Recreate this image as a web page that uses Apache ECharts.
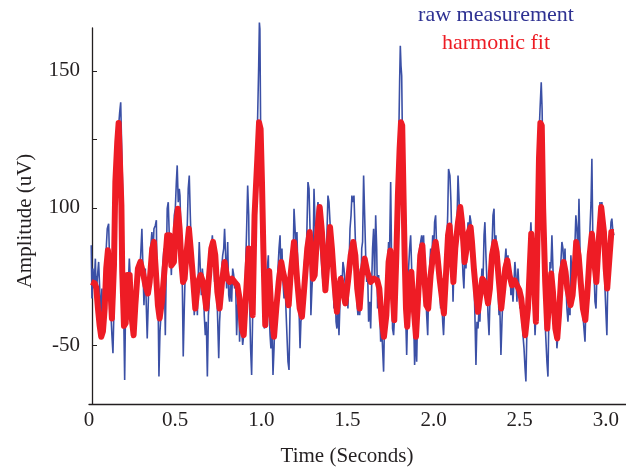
<!DOCTYPE html>
<html><head><meta charset="utf-8">
<script src="https://cdn.jsdelivr.net/npm/echarts@6/dist/echarts.min.js"></script>
<style>html,body{margin:0;padding:0;background:#fff}#c{width:626px;height:468px}</style>
</head><body><div id="c"></div>
<script>
// raw measurement: [time (s), amplitude]
const rawMeasurement = [
[0.013,86.4],[0.017,67],[0.023,77.9],[0.029,70.6],[0.037,81.5],[0.042,67],[0.048,74.2],[0.056,80.3],[0.062,70.6],[0.068,60.9],[0.075,70.6],[0.081,56],[0.091,67],[0.100,85.2],[0.106,92.4],[0.114,94.2],[0.120,79.1],[0.126,63.3],[0.133,53.6],[0.139,47],[0.145,63.3],[0.153,80.3],[0.158,109.4],[0.164,116.7],[0.172,130],[0.178,134.8],[0.184,138.5],[0.189,123.9],[0.195,107],[0.199,75.5],[0.203,54.8],[0.207,37.3],[0.211,57.3],[0.217,73],[0.222,63.3],[0.228,71.8],[0.234,81.5],[0.240,74.2],[0.246,64.5],[0.251,68.2],[0.257,53.6],[0.263,60.9],[0.269,63.3],[0.275,77.9],[0.280,73],[0.288,80.3],[0.294,77.9],[0.300,82.7],[0.307,92.4],[0.313,93],[0.319,64.5],[0.327,77.9],[0.333,63.3],[0.338,52.4],[0.346,69.4],[0.352,77.9],[0.358,85.2],[0.365,91.2],[0.371,82.7],[0.377,92.4],[0.385,93.6],[0.391,95.5],[0.396,63.3],[0.402,60.9],[0.406,38.5],[0.412,54.8],[0.420,63.3],[0.427,77.9],[0.435,85.2],[0.443,53.6],[0.449,80.3],[0.454,99.7],[0.460,102.1],[0.466,90],[0.472,85.2],[0.478,75.5],[0.483,86.4],[0.489,82.7],[0.495,97.3],[0.501,99.7],[0.507,109.4],[0.512,115.5],[0.518,102.1],[0.524,107],
[0.528,104.5],[0.536,85.2],[0.542,70.6],[0.547,45.8],[0.553,63.3],[0.559,77.9],[0.565,85.2],[0.571,94.8],[0.576,107],[0.582,111.8],[0.588,97.3],[0.594,85.2],[0.600,76.7],[0.605,70.6],[0.611,60.9],[0.617,68.2],[0.623,73],[0.629,60.9],[0.634,75.5],[0.640,87.6],[0.646,77.9],[0.652,68.2],[0.658,77.9],[0.664,73],[0.669,60.9],[0.675,53.6],[0.681,58.5],[0.687,38.5],[0.693,60.9],[0.698,65.8],[0.704,77.9],[0.710,85.2],[0.716,90],[0.722,82.7],[0.729,73],[0.737,77.9],[0.745,63.3],[0.753,45.2],[0.758,58.5],[0.764,65.8],[0.770,77.9],[0.776,82.7],[0.782,85.2],[0.787,92.4],[0.793,82.7],[0.799,70.6],[0.805,87.6],[0.811,68.2],[0.816,65.8],[0.822,73],[0.828,65.8],[0.834,77.9],[0.840,75.5],[0.845,70.6],[0.851,73],[0.857,53.6],[0.863,64.5],[0.869,69.4],[0.874,51.2],[0.880,60.9],[0.886,56],[0.892,50],[0.898,53.6],[0.903,63.3],[0.909,77.9],[0.915,92.4],[0.921,108.2],[0.927,97.3],[0.932,65.8],[0.938,48.8],[0.944,39.1],[0.950,60.9],[0.956,94.8],[0.961,107],[0.967,104.5],[0.973,116.7],[0.979,133.6],[0.985,151.8],[0.989,167.6],[0.992,165.2],[0.996,131.2],[1.000,109.4],[1.006,87.6],[1.012,70.6],[1.018,56],[1.023,60.9],[1.029,63.3],[1.035,77.9],[1.041,82.7],
[1.045,63.3],[1.051,53.6],[1.056,48.8],[1.062,58.5],[1.068,39.1],[1.074,48.8],[1.080,60.9],[1.085,53.6],[1.091,70.6],[1.097,77.9],[1.103,85.2],[1.109,90],[1.114,75.5],[1.120,85.2],[1.126,73],[1.132,67],[1.138,75.5],[1.143,63.3],[1.149,53.6],[1.155,43.9],[1.161,40.9],[1.167,63.3],[1.172,77.9],[1.178,85.2],[1.184,77.9],[1.190,99.7],[1.196,92.4],[1.201,85.2],[1.207,91.2],[1.213,75.5],[1.219,63.3],[1.225,48.8],[1.230,58.5],[1.236,60.9],[1.242,68.2],[1.248,77.9],[1.254,82.7],[1.259,77.9],[1.265,92.4],[1.271,109.4],[1.277,107],[1.283,92.4],[1.288,60.9],[1.294,70.6],[1.300,77.9],[1.306,107],[1.312,94.8],[1.317,85.2],[1.323,97.3],[1.329,102.1],[1.335,97.3],[1.341,87.6],[1.347,82.7],[1.352,77.9],[1.358,73],[1.364,70.6],[1.370,80.3],[1.376,85.2],[1.381,90],[1.387,104.5],[1.393,102.1],[1.399,94.8],[1.405,85.2],[1.410,92.4],[1.416,75.5],[1.422,63.3],[1.428,73],[1.434,58.5],[1.439,56],[1.445,63.3],[1.451,53.6],[1.457,65.8],[1.463,75.5],[1.468,70.6],[1.474,80.3],[1.480,77.9],[1.486,73],[1.492,68.2],[1.497,73],[1.503,63.3],[1.509,77.9],[1.515,92.4],[1.521,97.3],[1.526,104.5],[1.532,102.1],[1.538,104.5],[1.544,92.4],[1.550,80.3],[1.555,65.8],[1.561,60.9],
[1.565,77.9],[1.571,60.9],[1.577,65.8],[1.583,85.2],[1.588,87.6],[1.594,111.8],[1.600,97.3],[1.606,82.7],[1.612,73],[1.617,77.9],[1.623,58.5],[1.629,65.8],[1.635,56],[1.641,73],[1.646,85.2],[1.652,92.4],[1.658,73],[1.664,97.3],[1.670,85.2],[1.675,63.3],[1.681,75.5],[1.687,63.3],[1.693,51.2],[1.699,56],[1.704,48.8],[1.710,40.3],[1.716,60.9],[1.722,56],[1.728,70.6],[1.733,77.9],[1.739,87.6],[1.745,85.2],[1.751,109.4],[1.757,77.9],[1.762,56],[1.768,53.6],[1.774,60.9],[1.780,73],[1.786,92.4],[1.791,107],[1.797,121.5],[1.803,145.8],[1.807,159.1],[1.811,151.8],[1.815,148.2],[1.820,121.5],[1.826,92.4],[1.832,75.5],[1.838,60.9],[1.844,46.4],[1.850,63.3],[1.855,77.9],[1.861,85.2],[1.867,90],[1.873,77.9],[1.879,68.2],[1.884,60.9],[1.890,42.7],[1.896,56],[1.902,43.9],[1.908,63.3],[1.913,75.5],[1.919,85.2],[1.925,87.6],[1.931,90],[1.937,85.2],[1.942,90],[1.948,77.9],[1.954,70.6],[1.960,60.9],[1.966,53.6],[1.971,68.2],[1.977,77.9],[1.983,85.2],[1.989,80.3],[1.995,90],[2.000,82.7],[2.006,94.8],[2.012,97.3],[2.018,85.2],[2.024,82.7],[2.029,77.9],[2.035,70.6],[2.041,63.3],[2.047,68.2],[2.053,58.5],[2.058,53.6],[2.064,63.3],[2.070,77.9],[2.076,85.2],[2.082,97.3],[2.087,114.2],
[2.095,111.8],[2.101,102.1],[2.107,85.2],[2.113,65.8],[2.118,77.9],[2.124,85.2],[2.130,80.3],[2.136,94.8],[2.142,111.8],[2.147,104.5],[2.153,94.8],[2.159,99.7],[2.165,85.2],[2.171,75.5],[2.176,70.6],[2.182,82.7],[2.188,77.9],[2.194,87.6],[2.200,94.8],[2.205,90],[2.211,97.3],[2.217,94.8],[2.223,87.6],[2.229,82.7],[2.235,73],[2.240,60.9],[2.246,42.7],[2.252,58.5],[2.258,56],[2.264,63.3],[2.269,58.5],[2.275,70.6],[2.281,77.9],[2.287,73],[2.293,90],[2.298,94.8],[2.304,82.7],[2.310,73],[2.316,60.9],[2.322,53.6],[2.327,65.8],[2.333,77.9],[2.339,85.2],[2.345,97.3],[2.351,99.7],[2.356,82.7],[2.362,90],[2.368,80.3],[2.374,70.6],[2.380,60.9],[2.385,63.3],[2.391,46.4],[2.397,58.5],[2.403,68.2],[2.409,77.9],[2.414,80.3],[2.420,85.2],[2.426,77.9],[2.432,82.7],[2.438,73],[2.443,77.9],[2.449,68.2],[2.455,73],[2.461,65.8],[2.467,73],[2.472,80.3],[2.478,75.5],[2.484,65.8],[2.490,77.9],[2.496,70.6],[2.501,63.3],[2.507,68.2],[2.513,60.9],[2.519,53.6],[2.525,48.8],[2.531,41.5],[2.536,36.7],[2.542,56],[2.548,65.8],[2.554,77.9],[2.560,87.6],[2.565,94.8],[2.571,85.2],[2.577,75.5],[2.583,65.8],[2.589,53.6],[2.594,60.9],[2.600,85.2],[2.606,107],[2.612,126.4],[2.618,136],[2.625,145.8],[2.630,136],
[2.639,97.3],[2.645,73],[2.650,54.8],[2.658,43.9],[2.664,38.5],[2.670,63.3],[2.676,80.3],[2.681,77.9],[2.687,90],[2.693,77.9],[2.699,63.3],[2.705,56],[2.710,60.9],[2.716,48.8],[2.722,53.6],[2.728,63.3],[2.734,73],[2.739,80.3],[2.745,87.6],[2.751,85.2],[2.757,77.9],[2.763,85.2],[2.768,73],[2.774,63.3],[2.780,58.5],[2.786,65.8],[2.792,60.9],[2.797,82.7],[2.803,75.5],[2.809,70.6],[2.815,82.7],[2.821,87.6],[2.826,97.3],[2.832,92.4],[2.838,82.7],[2.844,103.3],[2.850,85.2],[2.856,70.6],[2.861,63.3],[2.867,60.9],[2.873,56],[2.879,51.2],[2.884,63.3],[2.890,60.9],[2.896,82.7],[2.902,80.3],[2.908,92.4],[2.914,102.1],[2.919,117.9],[2.925,85.2],[2.931,77.9],[2.937,65.8],[2.943,63.3],[2.948,75.5],[2.954,82.7],[2.960,92.4],[2.966,102.1],[2.972,97.3],[2.977,102.1],[2.983,94.8],[2.989,82.7],[2.995,70.6],[3.001,60.9],[3.006,53.6],[3.012,75.5],[3.018,85.2],[3.024,87.6],[3.030,94.8],[3.035,96.1],[3.041,91.2],[3.047,90]
];

// harmonic fit: [time (s), amplitude]
const harmonicFit = [
[0.013,73],[0.033,72.5],[0.042,71],[0.052,63.3],[0.062,57],[0.071,53],[0.081,55],[0.091,63.3],[0.100,77.9],[0.110,84.6],[0.120,75.5],[0.133,59.7],[0.145,79],[0.153,109.4],[0.164,124],[0.172,131],[0.182,131],[0.188,101],[0.193,76.6],[0.203,57],[0.213,58],[0.222,75.5],[0.236,75.5],[0.246,60.9],[0.259,53.6],[0.269,64.5],[0.284,77.9],[0.298,80.3],[0.313,76.6],[0.327,71.8],[0.342,68.8],[0.352,73],[0.367,85.2],[0.377,87.6],[0.387,77.9],[0.400,64.5],[0.410,59.7],[0.423,65.8],[0.439,77.9],[0.454,90],[0.468,90],[0.478,79],[0.493,80.3],[0.503,92.4],[0.516,99.7],
[0.526,92.4],[0.536,80.3],[0.546,73],[0.555,74.2],[0.565,82.7],[0.580,92.4],[0.590,85.2],[0.604,74.2],[0.617,63.3],[0.633,73],[0.648,75.5],[0.662,73],[0.681,63.3],[0.694,73],[0.710,85.2],[0.720,87.6],[0.733,82.7],[0.745,69.4],[0.758,63.3],[0.772,73],[0.787,80.3],[0.803,74.2],[0.816,73],[0.830,74.2],[0.845,73],[0.861,71.8],[0.874,67],[0.888,56],[0.898,53.6],[0.909,65.8],[0.927,85.2],[0.938,73],[0.950,60.9],[0.961,97.3],[0.977,117.9],[0.987,131.2],[0.996,128.8],[1.004,109.4],[1.012,85.2],[1.023,57.3],[1.035,73],[1.046,77],
[1.058,62],[1.074,53],[1.087,63.3],[1.101,73],[1.116,80.3],[1.126,76.7],[1.140,73],[1.159,64.5],[1.170,75.5],[1.190,87.6],[1.198,82.7],[1.209,73],[1.223,63.3],[1.236,60.3],[1.252,73],[1.267,85.2],[1.281,91.2],[1.290,85.2],[1.300,74.2],[1.310,75.5],[1.325,91.2],[1.339,100.3],[1.352,91.2],[1.364,77.9],[1.372,70],[1.387,82.7],[1.399,93],[1.410,85.2],[1.422,74.2],[1.439,62.1],[1.449,69.4],[1.461,74.2],[1.474,69.4],[1.488,65.2],[1.503,73],[1.519,82.7],[1.534,87.6],[1.546,82.7],[1.557,70.6],
[1.571,63.3],[1.584,75.5],[1.600,81.5],[1.615,76.7],[1.635,73],[1.654,74.2],[1.673,73.6],[1.685,70.6],[1.700,58.5],[1.712,53],[1.726,60.9],[1.739,80.3],[1.749,84.5],[1.759,73],[1.772,59.1],[1.784,82.7],[1.793,104.5],[1.803,121.5],[1.811,131.2],[1.818,130],[1.826,103.3],[1.832,82.7],[1.840,63.3],[1.847,56.7],[1.861,73],[1.871,76.7],[1.882,65.8],[1.898,53],[1.909,65.8],[1.923,82.7],[1.935,86.4],[1.944,76.7],[1.958,64.5],[1.969,63.3],[1.983,75.5],[1.997,82.7],[2.012,87.6],[2.022,82.7],[2.035,74.2],[2.049,67],[2.060,61.5],[2.074,77.9],
[2.084,90],[2.093,93.6],[2.103,85.2],[2.115,73],[2.126,85.2],[2.142,94.8],[2.155,100.3],[2.165,94.8],[2.180,80.3],[2.192,85.2],[2.204,91.2],[2.215,93],[2.223,87.6],[2.234,77.9],[2.246,69.4],[2.258,62.1],[2.271,68.2],[2.283,74.2],[2.296,73],[2.316,65.2],[2.327,70.6],[2.339,82.7],[2.354,87.6],[2.366,83.9],[2.378,74.2],[2.393,63.3],[2.405,70.6],[2.416,77.9],[2.428,80.9],[2.441,75.5],[2.455,71.8],[2.470,73.6],[2.484,71.8],[2.498,70],[2.509,67],[2.521,59.7],[2.532,53.6],[2.548,63.3],[2.558,77.9],[2.567,90.6],[2.581,75.5],[2.594,58.5],
[2.604,90],[2.612,118],[2.620,131],[2.628,130],[2.636,100],[2.648,73],[2.660,56],[2.670,65.8],[2.683,76.1],[2.693,69.4],[2.707,56],[2.718,52.4],[2.728,60.9],[2.741,75.5],[2.755,80.3],[2.766,76.7],[2.776,70.6],[2.795,64.5],[2.807,68.2],[2.819,77.9],[2.828,87.6],[2.842,82.7],[2.854,73],[2.867,63.3],[2.881,59.1],[2.892,68.2],[2.906,82.7],[2.919,90.6],[2.929,82.7],[2.945,73],[2.958,87.6],[2.973,100.3],[2.989,91.2],[2.999,77.9],[3.008,70.6],[3.022,82.7],[3.032,91.2],[3.047,91.2]
];

const xTickValues = [0, 0.5, 1.0, 1.5, 2.0, 2.5, 3.0];
const yLabelValues = [50, 100, 150];
const yLabelTexts = ['-50', '100', '150'];
const yTickValues = [50, 75, 100, 125, 150];
const seriesNames = ['raw measurement', 'harmonic fit'];
const axisTitles = ['Time (Seconds)', 'Amplitude (uV)'];

const FONT = "'Liberation Serif', 'DejaVu Serif', serif";
const chart = echarts.init(document.getElementById('c'), null, {renderer: 'canvas'});
chart.setOption({
  animation: false,
  backgroundColor: '#ffffff',
  grid: {left: 89, right: 0, top: 28, bottom: 64, containLabel: false},
  xAxis: {
    type: 'value', min: 0, max: 3.117,
    axisLine: {show: true, onZero: false, lineStyle: {color: '#231f20', width: 1.3}},
    axisTick: {show: false},
    splitLine: {show: false},
    axisLabel: {
      customValues: xTickValues, margin: 6, showMinLabel: true,
      fontFamily: FONT, fontSize: 21, color: '#231f20',
      formatter: v => v === 0 ? '0' : v.toFixed(1)
    }
  },
  yAxis: {
    type: 'value', min: 28.5, max: 165.6, offset: -3,
    axisLine: {show: true, onZero: false, lineStyle: {color: '#231f20', width: 1.3}},
    axisTick: {show: true, inside: true, length: 5, customValues: yTickValues, lineStyle: {color: '#231f20', width: 1}},
    splitLine: {show: false},
    axisLabel: {
      customValues: yLabelValues, margin: 12,
      fontFamily: FONT, fontSize: 21, color: '#231f20',
      formatter: v => { const i = yLabelValues.indexOf(Math.round(v)); return i >= 0 ? yLabelTexts[i] : ''; }
    }
  },
  graphic: [
    {type: 'text', x: 496, y: 15, style: {text: seriesNames[0], fill: '#2e3192', font: "22px 'Liberation Serif'", align: 'center', verticalAlign: 'middle', textAlign: 'center', textVerticalAlign: 'middle'}},
    {type: 'text', x: 496, y: 43, style: {text: seriesNames[1], fill: '#ed1c24', font: "22px 'Liberation Serif'", align: 'center', verticalAlign: 'middle', textAlign: 'center', textVerticalAlign: 'middle'}},
    {type: 'text', x: 347, y: 456, style: {text: axisTitles[0], fill: '#231f20', font: "21px 'Liberation Serif'", align: 'center', verticalAlign: 'middle', textAlign: 'center', textVerticalAlign: 'middle'}},
    {type: 'text', x: 25, y: 221, rotation: Math.PI / 2, style: {text: axisTitles[1], fill: '#231f20', font: "21px 'Liberation Serif'", align: 'center', verticalAlign: 'middle', textAlign: 'center', textVerticalAlign: 'middle'}}
  ],
  series: [
    {name: seriesNames[0], type: 'line', data: rawMeasurement, showSymbol: false, symbol: 'none', clip: false,
     lineStyle: {color: '#3b50a6', width: 1.6}, z: 2},
    {name: seriesNames[1], type: 'line', data: harmonicFit, showSymbol: false, symbol: 'none', clip: false, smooth: false,
     lineStyle: {color: '#ee1c25', width: 6, join: 'round'}, z: 3}
  ]
});
</script>
</body></html>
